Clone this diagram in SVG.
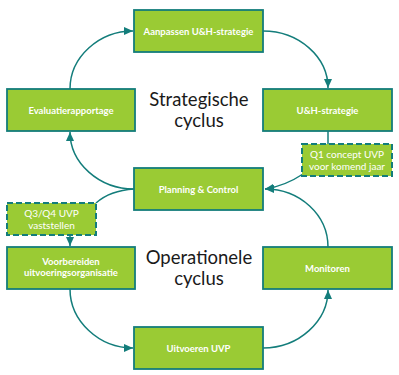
<svg xmlns="http://www.w3.org/2000/svg" width="399" height="375" viewBox="0 0 399 375">
<style>
.box{fill:#9acb34;stroke:#137d7b;stroke-width:1.8}
.dash{fill:#9acb34;stroke:#137d7b;stroke-width:2;stroke-dasharray:6,3}
.lbl{font-family:Lato,"Open Sans",sans-serif;font-weight:bold;font-size:9.5px;fill:#fff;text-anchor:middle}
.dl{font-family:Lato,"Open Sans",sans-serif;font-size:10px;fill:#fff;text-anchor:middle}
.big{font-family:Lato,"Open Sans",sans-serif;font-size:18.5px;fill:#1a1a1a;text-anchor:middle}
.c{fill:none;stroke:#137d7b;stroke-width:1.5}
</style>
<defs>
<marker id="ah" markerUnits="userSpaceOnUse" markerWidth="10" markerHeight="10" viewBox="0 0 10 10" refX="9" refY="5" orient="auto">
<path d="M0,1 L9,5 L0,9 Z" fill="#137d7b"/>
</marker>
</defs>
<g id="connectors">
<path class="c" d="M70,89 C70,57 99,31 133,31" marker-end="url(#ah)"/>
<path class="c" d="M263,31 C299,31 328,57 328,88" marker-end="url(#ah)"/>
<path class="c" d="M328,131 L328,144"/>
<path class="c" d="M303,174 C291,182 279,187 265,189" marker-end="url(#ah)"/>
<path class="c" d="M328,247 C328,215 300,189 265,189" marker-end="url(#ah)"/>
<path class="c" d="M134,189 C99,189 70,163 70,132" marker-end="url(#ah)"/>
<path class="c" d="M134,189 C118,190 105,195 96,203"/>
<path class="c" d="M70,235 L70,246" marker-end="url(#ah)"/>
<path class="c" d="M70,289 C70,321 99,348 133,348" marker-end="url(#ah)"/>
<path class="c" d="M263,348 C299,348 328,321 328,290" marker-end="url(#ah)"/>
</g>
<g id="aanpassen"><rect class="box" x="134" y="10" width="129" height="42"/><text class="lbl" x="198.5" y="34.5">Aanpassen U&amp;H-strategie</text></g>
<g id="evaluatie"><rect class="box" x="7" y="89" width="128" height="42"/><text class="lbl" x="71" y="113.5">Evaluatierapportage</text></g>
<g id="uh"><rect class="box" x="263" y="89" width="129" height="42"/><text class="lbl" x="327.5" y="113.5">U&amp;H-strategie</text></g>
<g id="q1"><rect class="dash" x="302" y="144" width="90" height="32"/><text class="dl" x="347" y="158">Q1 concept UVP</text><text class="dl" x="347" y="170">voor komend jaar</text></g>
<g id="planning"><rect class="box" x="134" y="168" width="129" height="42"/><text class="lbl" x="198.5" y="192.5">Planning &amp; Control</text></g>
<g id="q3"><rect class="dash" x="7" y="203" width="89" height="32"/><text class="dl" x="51.5" y="217">Q3/Q4 UVP</text><text class="dl" x="51.5" y="229">vaststellen</text></g>
<g id="voorbereiden"><rect class="box" x="7" y="247" width="128" height="42"/><text class="lbl" x="71" y="265">Voorbereiden</text><text class="lbl" x="71" y="276">uitvoeringsorganisatie</text></g>
<g id="monitoren"><rect class="box" x="263" y="247" width="129" height="42"/><text class="lbl" x="327.5" y="271.5">Monitoren</text></g>
<g id="uitvoeren"><rect class="box" x="134" y="327" width="129" height="42"/><text class="lbl" x="198.5" y="351.5">Uitvoeren UVP</text></g>
<g id="titles">
<text class="big" x="199" y="106">Strategische</text>
<text class="big" x="199" y="127">cyclus</text>
<text class="big" x="199" y="264">Operationele</text>
<text class="big" x="199" y="285">cyclus</text>
</g>
</svg>
